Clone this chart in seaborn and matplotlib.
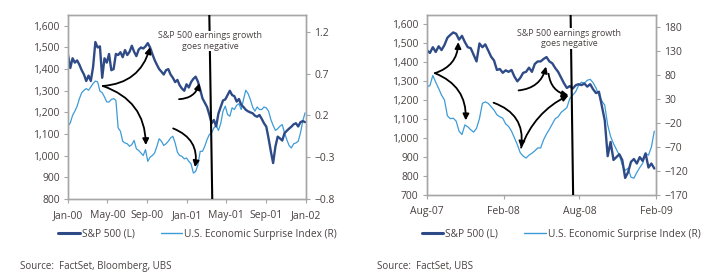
import pandas as pd
import matplotlib.pyplot as plt
import matplotlib.dates as mdates
from matplotlib.ticker import FuncFormatter, FixedLocator
import seaborn as sns

# === Daten (wöchentlich) ===

# Panel 1: 2000-2001
sp500_0002 = [1465, 1405, 1450, 1430, 1440, 1420, 1395, 1375, 1345, 1370, 1345, 1410, 1525, 1500,
              1505, 1360, 1450, 1430, 1470, 1395, 1400, 1470, 1465, 1478, 1455, 1488, 1465, 1480,
              1508, 1480, 1460, 1490, 1500, 1495, 1505, 1520, 1500, 1470, 1442, 1420, 1400, 1388,
              1375, 1395, 1400, 1375, 1360, 1340, 1350, 1325, 1310, 1300, 1330, 1315, 1340, 1355,
              1365, 1342, 1305, 1265, 1245, 1225, 1190, 1150, 1165, 1135, 1195, 1225, 1255, 1260,
              1280, 1300, 1280, 1275, 1250, 1262, 1235, 1225, 1212, 1205, 1200, 1196, 1185, 1180,
              1188, 1170, 1150, 1134, 1080, 1020, 966, 1042, 1088, 1080, 1070, 1104, 1115, 1125,
              1134, 1145, 1150, 1135, 1155, 1160, 1155]
surprise_0002 = [0.07, 0.11, 0.20, 0.25, 0.31, 0.40, 0.47, 0.50, 0.52, 0.50, 0.54, 0.58, 0.61, 0.60,
                 0.49, 0.47, 0.42, 0.36, 0.36, 0.39, 0.40, 0.38, 0.05, 0.01, -0.11, -0.13, -0.14, -0.17,
                 -0.15, -0.10, -0.20, -0.22, -0.25, -0.28, -0.21, -0.35, -0.30, -0.28, -0.25, -0.17, -0.08, -0.11,
                 -0.16, -0.14, -0.11, -0.07, -0.05, -0.13, -0.24, -0.28, -0.29, -0.32, -0.31, -0.35, -0.38, -0.49,
                 -0.47, -0.39, -0.23, -0.23, -0.17, -0.09, -0.03, -0.01, 0.05, 0.08, 0.02, 0.10, 0.25, 0.31,
                 0.21, 0.19, 0.29, 0.27, 0.32, 0.34, 0.27, 0.39, 0.50, 0.46, 0.39, 0.30, 0.25, 0.30,
                 0.27, 0.27, 0.30, 0.29, 0.25, 0.15, 0.08, 0.02, 0.04, 0.07, 0.09, -0.01, -0.09, -0.16,
                 -0.19, -0.14, -0.13, -0.11, -0.01, 0.13, 0.23]

# Panel 2: Aug 2007 - Feb 2009
sp500_0709 = [1463, 1450, 1480, 1455, 1485, 1465, 1492, 1530, 1545, 1558, 1551, 1520, 1540, 1507,
              1480, 1475, 1440, 1405, 1500, 1480, 1495, 1463, 1430, 1410, 1360, 1365, 1345, 1358,
              1350, 1360, 1325, 1300, 1318, 1345, 1350, 1372, 1350, 1392, 1405, 1405, 1418, 1428,
              1405, 1395, 1370, 1350, 1320, 1290, 1265, 1275, 1262, 1279, 1285, 1280, 1288, 1272,
              1285, 1258, 1238, 1245, 1170, 1094, 905, 980, 885, 900, 915, 885, 790, 820,
              875, 890, 866, 900, 880, 920, 845, 866, 840]
surprise_0709 = [55, 58, 79, 65, 52, 38, 28, -5, -11, -10, -16, -37, -44, -24,
                 -28, -34, -39, -31, -11, 21, 24, 21, 14, 7, -3, -7, -10, -22,
                 -27, -37, -51, -65, -82, -89, -93, -87, -83, -78, -72, -72, -55, -43,
                 -33, -22, -11, -7, 2, 7, 12, 31, 38, 45, 58, 65, 63, 69,
                 71, 64, 53, 38, 26, 17, -24, -48, -63, -75, -87, -107, -119, -114,
                 -133, -135, -123, -113, -104, -84, -87, -70, -37]

label_sp = "S&P 500 (L)"
label_surprise = "U.S. Economic Surprise Index (R)"
note_text = "S&P 500 earnings growth\ngoes negative"
sources = ["Source:  FactSet, Bloomberg, UBS", "Source:  FactSet, UBS"]

DARK = "#2f4b87"
LIGHT = "#3d9bd8"
TXT = "#4a4242"
FRAME = "#a6a6a6"


def setup_axes(ax, ax2, xlim, xticks, ylim, yticks, y2lim, y2ticks):
    ax.set_xlim(xlim)
    ax.set_ylim(ylim)
    ax2.set_ylim(y2lim)
    ax.xaxis.set_major_locator(FixedLocator(mdates.date2num(xticks)))
    ax.xaxis.set_major_formatter(mdates.DateFormatter("%b-%y"))
    ax.set_yticks(yticks)
    ax.yaxis.set_major_formatter(FuncFormatter(lambda v, p: f"{v:,.0f}"))
    ax2.set_yticks(y2ticks)
    ax.set_xlabel("")
    ax.set_ylabel("")
    ax2.set_ylabel("")
    for a in (ax, ax2):
        for s in a.spines.values():
            s.set_color(FRAME)
            s.set_linewidth(1.0)
        a.tick_params(colors=FRAME, labelcolor=TXT, labelsize=7.5, length=3, width=0.8)
        a.grid(False)
    ax.tick_params(axis="y", pad=3)
    ax.tick_params(axis="x", pad=5, bottom=True)
    ax.tick_params(axis="y", left=True)
    ax2.tick_params(axis="y", right=True, pad=3)


def arrow(ax, start, end, rad):
    ax.annotate("", xy=(pd.Timestamp(end[0]), end[1]), xytext=(pd.Timestamp(start[0]), start[1]),
                arrowprops=dict(arrowstyle="-|>", color="black", lw=1.3, mutation_scale=9,
                                shrinkA=0, shrinkB=0, connectionstyle=f"arc3,rad={rad}"),
                zorder=6)


def main():
    sns.set_theme(style="white")
    plt.rcParams["font.family"] = ["Open Sans", "DejaVu Sans"]

    fig = plt.figure(figsize=(7.1, 2.77), dpi=100)

    # === Panel 1 ===
    df1 = pd.DataFrame({
        "Datum": pd.date_range("2000-01-01", periods=len(sp500_0002), freq="7D"),
        "SP": sp500_0002,
        "ESI": surprise_0002,
    })
    ax = fig.add_axes([0.0958, 0.2816, 0.3352, 0.6643])
    ax2 = ax.twinx()
    sns.lineplot(data=df1, x="Datum", y="ESI", ax=ax2, color=LIGHT, lw=0.9)
    sns.lineplot(data=df1, x="Datum", y="SP", ax=ax, color=DARK, lw=1.7)
    ax.set_zorder(ax2.get_zorder() + 1)
    ax.patch.set_visible(False)
    setup_axes(ax, ax2,
               (pd.Timestamp("2000-01-01"), pd.Timestamp("2002-01-01")),
               pd.date_range("2000-01-01", "2002-01-01", freq="4MS"),
               (800, 1650), list(range(800, 1601, 100)),
               (-0.8, 1.4), [-0.8, -0.3, 0.2, 0.7, 1.2])
    ax.plot([pd.Timestamp("2001-03-10"), pd.Timestamp("2001-03-19")], [1650, 800],
            color="black", lw=1.5, zorder=5)
    ax.text(pd.Timestamp("2001-03-12"), 1530, note_text, ha="center", va="center",
            fontsize=6.4, color=TXT, linespacing=1.2, zorder=7,
            bbox=dict(facecolor="white", edgecolor="none", pad=0.5))
    arrow(ax, ("2000-04-17", 1322), ("2000-09-09", 1501), 0.35)
    arrow(ax, ("2000-04-17", 1322), ("2000-08-27", 1049), -0.35)
    arrow(ax, ("2000-12-07", 1261), ("2001-02-08", 1335), 0.35)
    arrow(ax, ("2000-11-19", 1126), ("2001-01-25", 947), -0.4)

    # === Panel 2 ===
    df2 = pd.DataFrame({
        "Datum": pd.date_range("2007-08-01", periods=len(sp500_0709), freq="7D"),
        "SP": sp500_0709,
        "ESI": surprise_0709,
    })
    bx = fig.add_axes([0.6014, 0.296, 0.3225, 0.6498])
    bx2 = bx.twinx()
    sns.lineplot(data=df2, x="Datum", y="ESI", ax=bx2, color=LIGHT, lw=0.9)
    sns.lineplot(data=df2, x="Datum", y="SP", ax=bx, color=DARK, lw=1.7)
    bx.set_zorder(bx2.get_zorder() + 1)
    bx.patch.set_visible(False)
    setup_axes(bx, bx2,
               (pd.Timestamp("2007-08-01"), pd.Timestamp("2009-02-01")),
               pd.date_range("2007-08-01", "2009-02-01", freq="6MS"),
               (700, 1650), list(range(700, 1601, 100)),
               (-170, 205), list(range(-170, 181, 50)))
    bx.plot([pd.Timestamp("2008-07-11"), pd.Timestamp("2008-07-17")], [1650, 700],
            color="black", lw=1.5, zorder=5)
    bx.text(pd.Timestamp("2008-07-08"), 1525, note_text, ha="center", va="center",
            fontsize=6.4, color=TXT, linespacing=1.2, zorder=7,
            bbox=dict(facecolor="white", edgecolor="none", pad=0.5))
    arrow(bx, ("2007-08-20", 1343), ("2007-10-15", 1507), 0.35)
    arrow(bx, ("2007-08-20", 1343), ("2007-11-02", 1094), -0.35)
    arrow(bx, ("2008-01-08", 1187), ("2008-03-14", 950), -0.4)
    arrow(bx, ("2008-03-14", 950), ("2008-07-06", 1226), -0.2)
    arrow(bx, ("2008-03-08", 1252), ("2008-05-13", 1378), 0.35)
    arrow(bx, ("2008-05-19", 1340), ("2008-07-06", 1226), 0.35)

    # === Legenden und Quellen ===
    for a, x0 in ((ax, 0.082), (bx, 0.594)):
        handles = [plt.Line2D([], [], color=DARK, lw=2.2), plt.Line2D([], [], color=LIGHT, lw=1.0)]
        a.legend(handles, [label_sp, label_surprise], loc="center left",
                 bbox_to_anchor=(x0, 0.155), bbox_transform=fig.transFigure, ncol=2,
                 frameon=False, borderaxespad=0, borderpad=0, handlelength=2.1,
                 handletextpad=0.2, columnspacing=2.6, fontsize=7.3, labelcolor=TXT)

    fig.text(20 / 710, 1 - 266 / 277, sources[0], fontsize=7, color=TXT, va="center")
    fig.text(377 / 710, 1 - 266 / 277, sources[1], fontsize=7, color=TXT, va="center")

    fig.savefig("out.png", dpi=100)


if __name__ == "__main__":
    main()
